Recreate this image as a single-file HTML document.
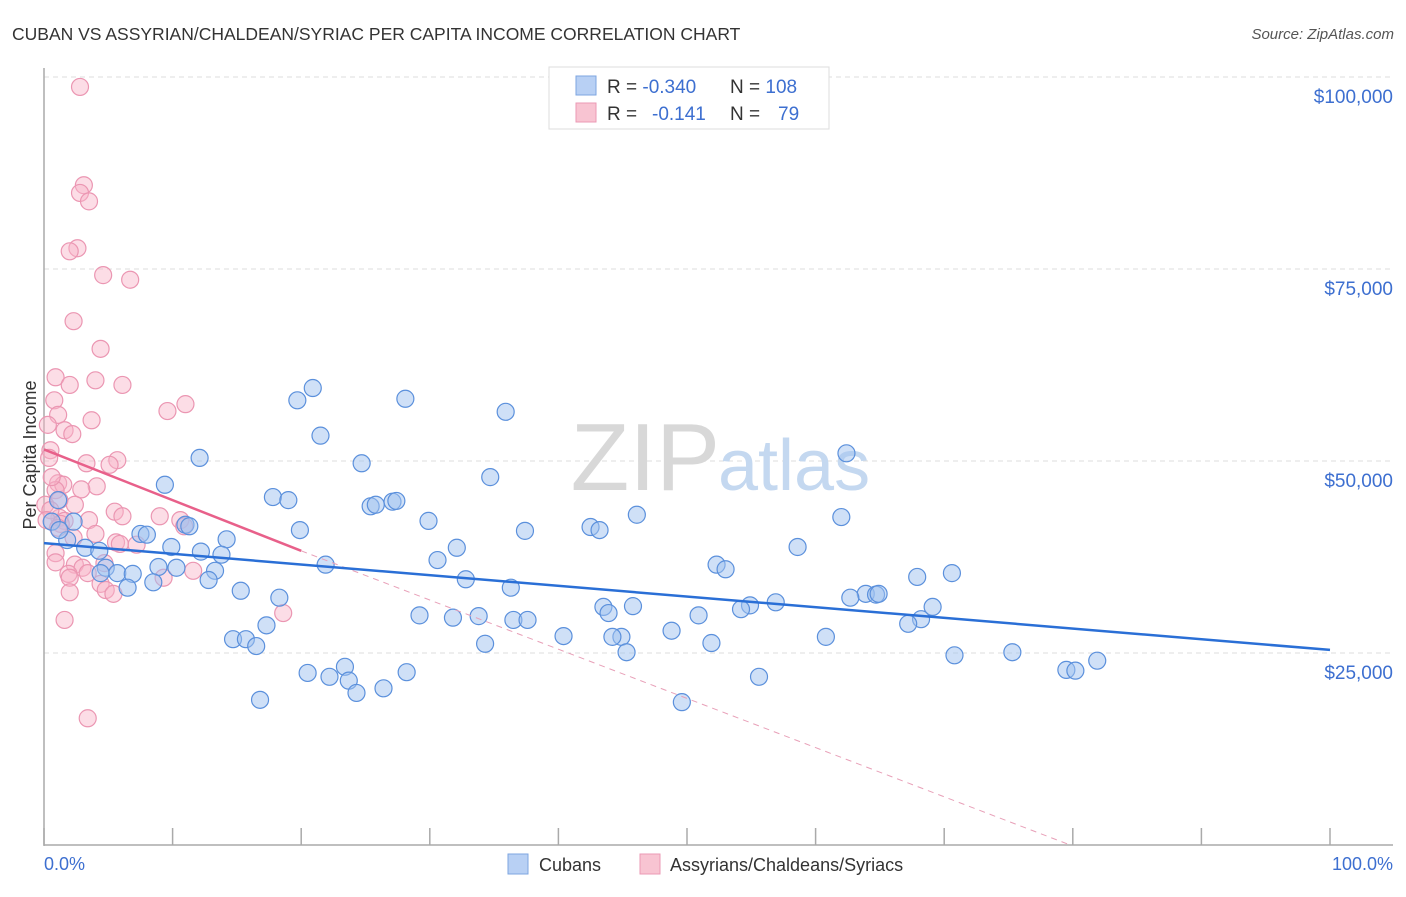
<!DOCTYPE html>
<html><head><meta charset="utf-8"><style>
body{margin:0;background:#fff;font-family:"Liberation Sans",sans-serif}
svg text{font-family:"Liberation Sans",sans-serif}
</style></head><body>
<svg width="1406" height="892" xmlns="http://www.w3.org/2000/svg">
<text x="12" y="40" font-size="17.5" fill="#333">CUBAN VS ASSYRIAN/CHALDEAN/SYRIAC PER CAPITA INCOME CORRELATION CHART</text>
<text x="1394" y="39" font-size="15" fill="#555" font-style="italic" text-anchor="end">Source: ZipAtlas.com</text>
<g id="grid"></g>
<text x="720" y="490" font-size="96" fill="#d8d8d8" text-anchor="end" font-family="Liberation Serif">ZIP</text>
<text x="718" y="490" font-size="72" fill="#c4d8f0">atlas</text>
<line x1="44" y1="68" x2="44" y2="846" stroke="#aaa" stroke-width="1.5"/>
<line x1="44" y1="845" x2="1393" y2="845" stroke="#aaa" stroke-width="1.5"/>
<g id="xticks"></g>
<text x="36" y="455" font-size="18" fill="#333" text-anchor="middle" transform="rotate(-90 36 455)">Per Capita Income</text>
<text x="44" y="870" font-size="18" fill="#3d6fd0">0.0%</text>
<text x="1393" y="870" font-size="18" fill="#3d6fd0" text-anchor="end">100.0%</text>
<g id="pink"></g><g id="blue"></g><g id="trends"></g>
<g>
<rect x="549" y="67" width="280" height="62" fill="#fff" stroke="#ddd"/>
<rect x="576" y="76" width="20" height="19" fill="#b8d0f4" stroke="#7ea6e0"/>
<rect x="576" y="103" width="20" height="19" fill="#f8c4d2" stroke="#eb9ab4"/>
<text x="607" y="93" font-size="19" fill="#333">R = <tspan fill="#3d6fd0">-0.340</tspan><tspan x="730">N = </tspan><tspan fill="#3d6fd0">108</tspan></text>
<text x="607" y="120" font-size="19" fill="#333">R = <tspan fill="#3d6fd0" x="652">-0.141</tspan><tspan x="730">N = </tspan><tspan fill="#3d6fd0" x="778">79</tspan></text>
</g>
<g>
<rect x="508" y="854" width="20" height="20" fill="#b8d0f4" stroke="#7ea6e0"/>
<text x="539" y="871" font-size="18" fill="#333">Cubans</text>
<rect x="640" y="854" width="20" height="20" fill="#f8c4d2" stroke="#eb9ab4"/>
<text x="670" y="871" font-size="18" fill="#333">Assyrians/Chaldeans/Syriacs</text>
</g>
</svg>
<script>
const yTicks=[25000,50000,75000,100000];
const yTickLabels=["$25,000","$50,000","$75,000","$100,000"];
const xTicks=[0,10,20,30,40,50,60,70,80,90,100];
const blueX=[20.9,19.7,28.1,35.9,21.5,12.1,24.7,62.4,34.7,9.4,17.8,19.0,25.4,25.8,27.1,27.4,29.9,46.1,62.0,42.5,43.2,37.4,11.0,11.3,19.9,7.5,8.0,14.2,2.3,1.1,0.6,1.8,3.2,4.3,9.9,12.2,13.8,32.1,58.6,30.6,21.9,8.9,10.3,13.3,4.8,5.7,6.9,8.5,12.8,32.8,36.3,52.3,53.0,67.9,70.6,6.5,15.3,18.3,63.9,64.7,64.9,62.7,56.9,54.9,54.2,45.8,43.5,43.9,69.1,68.2,67.2,50.9,29.2,31.8,33.8,36.5,37.6,17.3,48.8,44.9,44.2,40.4,60.8,14.7,15.7,16.5,34.3,51.9,45.3,70.8,75.3,81.9,79.5,80.2,20.5,28.2,23.4,22.2,23.7,26.4,24.3,55.6,16.8,49.6,4.4,1.2];
const blueY=[59500,57900,58100,56400,53300,50400,49700,51000,47900,46900,45300,44900,44100,44300,44700,44800,42200,43000,42700,41400,41000,40900,41700,41500,41000,40500,40400,39800,42100,44900,42100,39700,38700,38300,38800,38200,37800,38700,38800,37100,36500,36200,36100,35700,36100,35400,35300,34200,34500,34600,33500,36500,35900,34900,35400,33500,33100,32200,32700,32600,32700,32200,31600,31200,30700,31100,31000,30200,31000,29400,28800,29900,29900,29600,29800,29300,29300,28600,27900,27100,27100,27200,27100,26800,26800,25900,26200,26300,25100,24700,25100,24000,22800,22700,22400,22500,23200,21900,21400,20400,19800,21900,18900,18600,35400,41000];
const pinkX=[2.8,3.1,2.8,3.5,2.6,2.0,4.6,6.7,2.3,4.4,0.9,4.0,2.0,6.1,0.8,11.0,9.6,1.1,3.7,0.3,1.6,2.2,0.5,0.4,3.3,5.7,5.1,1.1,1.5,0.9,4.1,2.9,0.6,1.2,2.4,1.2,1.6,3.5,5.5,6.1,9.0,10.6,10.9,4.0,2.3,5.6,5.9,7.2,0.9,0.9,2.4,4.7,3.0,1.9,2.0,3.4,9.3,11.6,4.4,4.8,5.4,2.0,18.6,1.6,3.4,0.1,0.5,0.2,1.3,1.1];
const pinkY=[98700,85900,84900,83800,77700,77300,74200,73600,68200,64600,60900,60500,59900,59900,57900,57400,56500,56000,55300,54700,54000,53500,51400,50400,49700,50100,49500,47100,46900,46200,46700,46300,47900,44900,44300,42600,42200,42300,43400,42800,42800,42300,41500,40500,40000,39400,39200,39100,38000,36800,36500,36700,36100,35300,34800,35400,34800,35700,34000,33200,32700,32900,30200,29300,16500,44300,43600,42300,41800,41300];
const blueTrendX=[0,100];const blueTrendY=[39300,25400];
const pinkTrendX=[0,20];const pinkTrendY=[51500,38300];
const pinkDashX=[20,79.8];const pinkDashY=[38300,0];
const NS="http://www.w3.org/2000/svg";
const xs=p=>44+p*12.86;
const ys=v=>845-v/130.2;
function mk(tag,attrs,parent){const e=document.createElementNS(NS,tag);for(const k in attrs)e.setAttribute(k,attrs[k]);parent.appendChild(e);return e;}
const grid=document.getElementById('grid');
yTicks.forEach((v,i)=>{
 const l=mk('line',{x1:44,x2:1393,y1:ys(v),y2:ys(v),stroke:'#ddd','stroke-dasharray':'5,4'},grid);
 
 
 const t=mk('text',{x:1393,y:ys(v)+26,'font-size':19,fill:'#3d6fd0','text-anchor':'end'},grid);
 t.textContent=yTickLabels[i];
 
 
});
const xt=document.getElementById('xticks');
xTicks.forEach(p=>{
 const l=mk('line',{x1:xs(p),x2:xs(p),y1:828,y2:845,stroke:'#aaa','stroke-width':1.5},xt);
 
 
});
const pg=document.getElementById('pink');
pinkX.forEach((p,i)=>{
 const c=mk('circle',{cx:xs(p),cy:ys(pinkY[i]),r:8.5,fill:'rgba(248,180,200,0.45)',stroke:'#eb96b2','stroke-width':1.2},pg);
 
 
});
const bg=document.getElementById('blue');
blueX.forEach((p,i)=>{
 const c=mk('circle',{cx:xs(p),cy:ys(blueY[i]),r:8.5,fill:'rgba(160,194,240,0.5)',stroke:'#5b90dc','stroke-width':1.2},bg);
 
 
});
const tg=document.getElementById('trends');
const d=mk('line',{x1:xs(pinkDashX[0]),y1:ys(pinkDashY[0]),x2:xs(pinkDashX[1]),y2:ys(pinkDashY[1]),stroke:'#e8a0b8','stroke-width':1,'stroke-dasharray':'6,5'},tg);


const pl=mk('line',{x1:xs(pinkTrendX[0]),y1:ys(pinkTrendY[0]),x2:xs(pinkTrendX[1]),y2:ys(pinkTrendY[1]),stroke:'#e8608a','stroke-width':2.5},tg);


const bl=mk('line',{x1:xs(blueTrendX[0]),y1:ys(blueTrendY[0]),x2:xs(blueTrendX[1]),y2:ys(blueTrendY[1]),stroke:'#2a6fd6','stroke-width':2.5},tg);


</script>
</body></html>
